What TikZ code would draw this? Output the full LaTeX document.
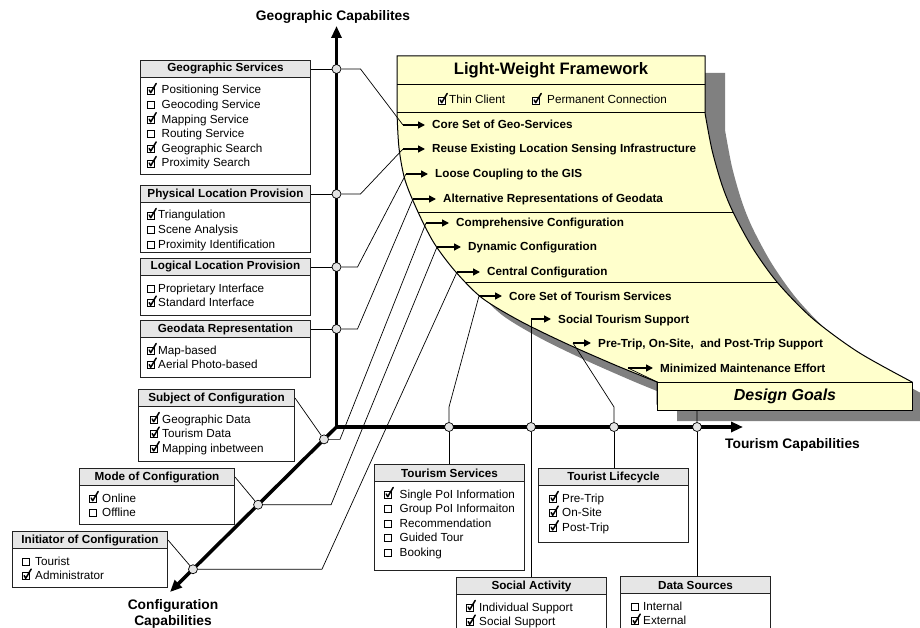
\documentclass[tikz,border=0pt]{standalone}
\usepackage{fontspec}
\setmainfont{Liberation Sans}
\usetikzlibrary{arrows.meta,calc}
\pgfdeclarelayer{bg}
\pgfdeclarelayer{mid}
\pgfsetlayers{bg,mid,main}
\definecolor{fwc}{HTML}{FFFFCC}
\definecolor{shadc}{HTML}{808080}
\definecolor{hdrc}{HTML}{E6E6E6}
\definecolor{dotc}{HTML}{E4E4E4}
\definecolor{bordc}{HTML}{222222}
\newcommand\fsz{\fontsize{11.7}{14.6}\selectfont}
\newcommand\cbon{\tikz[baseline=0pt,x=1pt,y=1pt]{\path[use as bounding box](0,0) rectangle (8.5,7);\draw[line width=0.8pt,fill=white](0.5,0) rectangle (7.5,7);\draw[line width=1.5pt,line join=round,line cap=round](2,4)--(3.5,1.3)--(9,10.5);}}
\newcommand\cboff{\tikz[baseline=0pt,x=1pt,y=1pt]{\path[use as bounding box](0,0) rectangle (8.5,7);\draw[line width=0.8pt,fill=white](0.5,0) rectangle (7.5,7);}}
\tikzset{
  hdrst/.style={draw=bordc, fill=hdrc, line width=1pt, minimum height=17pt, inner sep=0pt, anchor=north west, font=\fsz\bfseries},
  bodyst/.style={draw=bordc, fill=white, line width=1pt, inner sep=0pt, anchor=north west},
  itemst/.style={anchor=base west, inner sep=0pt, font=\fsz},
  dot/.style={circle, draw=black, fill=dotc, line width=0.7pt, minimum size=9pt, inner sep=0pt},
  conn/.style={line width=0.7pt, draw=black},
  garrow/.style={line width=1.5pt, -{Triangle[length=7pt,width=7pt]}, shorten >=7pt},
  goal/.style={anchor=base west, inner sep=0pt, font=\fsz\bfseries},
  axis/.style={line width=3.5pt, draw=black},
  axlabel/.style={font=\fontsize{13.8}{16}\selectfont\bfseries, align=center, inner sep=0pt},
  fwshape/.style={insert path={(397,56) -- (705,56) -- (705,113) -- plot[smooth] coordinates {(705,113) (712,150) (722,185) (733,212) (752,247) (777,282) (812,318) (858,352) (912,382)} -- (912,404) -- (657,404) -- (657,382) -- plot[smooth] coordinates {(657,382) (615,365) (565,343) (520,321) (482,298) (455,271) (434,243) (418,212) (405,180) (399,148) (397,113)} -- cycle}}
}
% name, x, y, width, height, title, checkbox indent, gap, items
\newcommand\featbox[9]{%
  \node[bodyst, minimum width=#4pt, minimum height=#5pt] (#1) at (#2,#3) {};
  \node[hdrst, minimum width=#4pt] (#1h) at (#2,#3) {#6};
  \foreach \ckv/\itv [count=\ii from 0] in {#9} {
    \node[itemst] (#1-\ii) at (#2+#7, #3+34+\ii*14.6) {\csname cb\ckv\endcsname\hspace{#8pt}\itv};
  }%
}
\begin{document}
\begin{tikzpicture}[x=1pt,y=-1pt,font=\fsz]
\useasboundingbox (0,0) rectangle (920,628);

% ---------- feature boxes ----------
\featbox{gs}{140}{60}{170}{114}{Geographic Services}{7}{6}{on/Positioning Service,off/Geocoding Service,on/Mapping Service,off/Routing Service,on/Geographic Search,on/Proximity Search}
\featbox{pl}{140}{185}{170}{67}{Physical Location Provision}{7}{2.5}{on/Triangulation,off/Scene Analysis,off/Proximity Identification}
\featbox{ll}{140}{258}{170}{57}{Logical Location Provision}{7}{2.5}{off/Proprietary Interface,on/Standard Interface}
\featbox{gr}{140}{320}{170}{57}{Geodata Representation}{7}{2.5}{on/Map-based,on/Aerial Photo-based}
\featbox{sc}{138}{389}{156}{72}{Subject of Configuration}{12}{3.5}{on/Geographic Data,on/Tourism Data,on/Mapping inbetween}
\featbox{mc}{79}{468}{155}{56}{Mode of Configuration}{10}{4.5}{on/Online,off/Offline}
\featbox{ic}{12}{531}{155}{56}{Initiator of Configuration}{10}{4.5}{off/Tourist,on/Administrator}
\featbox{ts}{374}{464}{150}{106}{Tourism Services}{10}{7}{on/Single PoI Information,off/Group PoI Informaiton,off/Recommendation,off/Guided Tour,off/Booking}
\featbox{tl}{538}{468}{150}{74}{Tourist Lifecycle}{11}{4.5}{on/Pre-Trip,on/On-Site,on/Post-Trip}
\featbox{sa}{456}{577}{150}{50.5}{Social Activity}{10}{4.5}{on/Individual Support,on/Social Support}
\featbox{ds}{620}{576}{150}{51.5}{Data Sources}{11}{3.5}{off/Internal,on/External}

% ---------- axes coordinates and circles ----------
\coordinate (O) at (336.5,427);
\coordinate (Ytip) at (336.5,26);
\coordinate (Xtip) at (743,427);
\coordinate (Ztip) at (170,592);
\node[dot] (c1) at (gsh.east -| O) {};
\node[dot] (c2) at (plh.east -| O) {};
\node[dot] (c3) at (llh.east -| O) {};
\node[dot] (c4) at (grh.east -| O) {};
\node[dot] (c5) at ($(O)!0.075!(Ztip)$) {};
\node[dot] (c6) at ($(O)!0.471!(Ztip)$) {};
\node[dot] (c7) at ($(O)!0.862!(Ztip)$) {};
\node[dot] (c8) at (449,427) {};
\node[dot] (c9) at (531,427) {};
\node[dot] (c10) at (614,427) {};
\node[dot] (c11) at (697,427) {};

% ---------- axis labels ----------
\node[axlabel] (ylab) at (333,17) {Geographic Capabilites};
\node[axlabel, anchor=west] (xlab) at (725,445) {Tourism Capabilities};
\node[axlabel] (zlab) at (173,614) {Configuration\\Capabilities};

% ---------- design goals box ----------
\node[draw=black, fill=fwc, line width=1pt, minimum width=255pt, minimum height=28pt, inner sep=0pt, anchor=north west, font=\fontsize{16}{18}\selectfont\bfseries\itshape] (dg) at (657,382) {Design Goals};

% ---------- framework (background) ----------
\begin{pgfonlayer}{bg}
\begin{scope}[shift={(20,17)}]
  \fill[shadc, fwshape];
\end{scope}
\fill[fwc, fwshape];
\begin{scope}
  \clip[fwshape];
  \draw[line width=0.8pt] (380,84) -- (720,84) (380,112) -- (720,112)
        (380,212) -- (920,212) (380,282) -- (920,282);
\end{scope}
\draw[line width=1pt, fwshape];
\node[font=\fontsize{16.6}{18}\selectfont\bfseries] (fwt) at (551,70) {Light-Weight Framework};
\node[anchor=base west, inner sep=0pt] (thin) at (438,104) {\cbon\hspace{2.5pt}Thin Client};
\node[anchor=base west, inner sep=0pt] (perm) at (532,104) {\cbon\hspace{6.5pt}Permanent Connection};
\node[goal] (g1) at (432,129) {Core Set of Geo-Services};
\node[goal] (g2) at (432,153) {Reuse Existing Location Sensing Infrastructure};
\node[goal] (g3) at (435,178) {Loose Coupling to the GIS};
\node[goal] (g4) at (443,203) {Alternative Representations of Geodata};
\node[goal] (g5) at (456,227) {Comprehensive Configuration};
\node[goal] (g6) at (468,251) {Dynamic Configuration};
\node[goal] (g7) at (487,276) {Central Configuration};
\node[goal] (g8) at (509,300) {Core Set of Tourism Services};
\node[goal] (g9) at (558,323) {Social Tourism Support};
\node[goal] (g10) at (598,347) {Pre-Trip, On-Site,\ \ and Post-Trip Support};
\node[goal] (g11) at (660,372) {Minimized Maintenance Effort};
\end{pgfonlayer}

% ---------- connectors and axes ----------
\begin{pgfonlayer}{mid}
\coordinate (b1) at (403,125);
\coordinate (b2) at (403,149);
\coordinate (b3) at (406,174);
\coordinate (b4) at (413,199);
\coordinate (b5) at (426,223);
\coordinate (b6) at (437,247);
\coordinate (b7) at (457,272);
\coordinate (b8) at (479,296);
\coordinate (b9) at (531,319);
\coordinate (b10) at (573,343);
\coordinate (b11) at (628,368);

\draw[conn] (gsh.east) -- (c1);
\draw[conn] (plh.east) -- (c2);
\draw[conn] (llh.east) -- (c3);
\draw[conn] (grh.east) -- (c4);
\draw[conn] (sch.east) -- (c5);
\draw[conn] (mch.east) -- (c6);
\draw[conn] (ich.east) -- (c7);
\draw[conn] (c8) -- (tsh.north -| c8);
\draw[conn] (c9) -- (sah.north -| c9);
\draw[conn] (c10) -- (tlh.north -| c10);
\draw[conn] (c11) -- (dsh.north -| c11);

\draw[conn] (c1) -- ++(24,0) -- (b1);
\draw[conn] (c2) -- ++(24,0) -- (b2);
\draw[conn] (c3) -- ++(21,0) -- (b3);
\draw[conn] (c4) -- ++(21,0) -- (b4);
\draw[conn] (c5) -- ++(16,0) -- (b5);
\draw[conn] (c6) -- ++(73,0) -- (b6);
\draw[conn] (c7) -- ++(129,0) -- (b7);
\draw[conn] (c8) -- ++(0,-20) -- (b8);
\draw[conn] (c9) -- (b9);
\draw[conn] (c10) -- ++(0,-20) -- (b10);
\draw[conn] (c11) -- ++(0,-26) -- (b11);

\foreach \k in {1,...,11} {
  \draw[garrow] (b\k) -- (b\k -| g\k.west);
}

\draw[axis, {Triangle[length=12pt,width=10pt]}-{Triangle[length=12pt,width=10pt]}] (Ytip) -- (O) -- (Xtip);
\draw[axis, -{Triangle[length=12pt,width=10pt]}] (O) -- (Ztip);
\end{pgfonlayer}
\end{tikzpicture}
\end{document}
